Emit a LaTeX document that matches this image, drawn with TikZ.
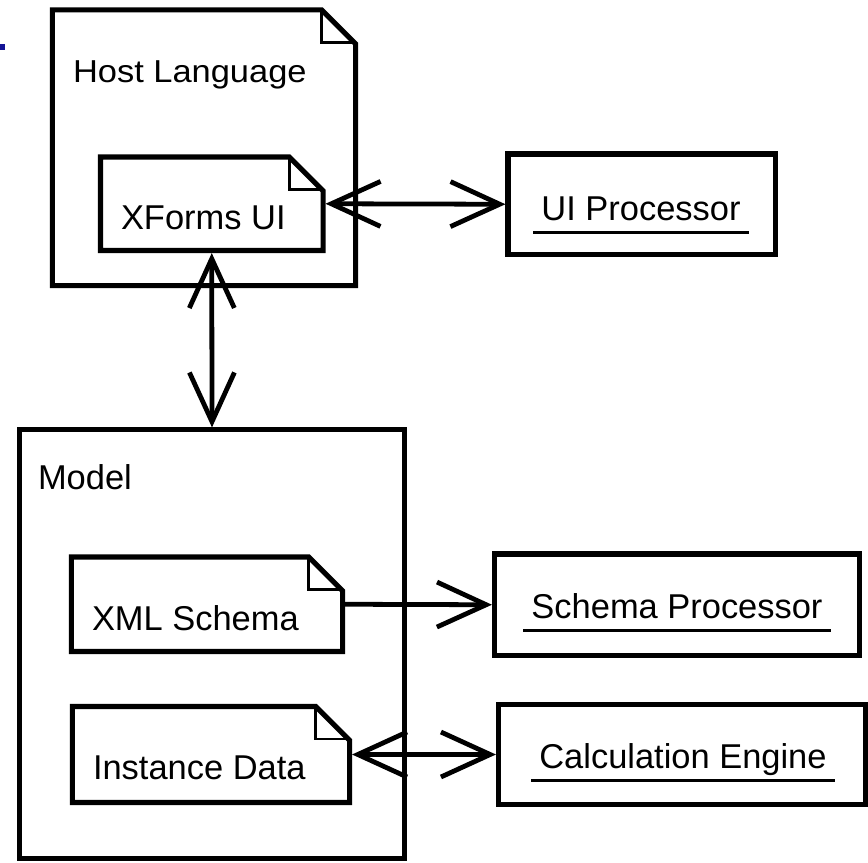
\documentclass[tikz,border=0pt]{standalone}
\usepackage{fontspec}
\setmainfont{Liberation Sans}
\usetikzlibrary{arrows.meta}
\usetikzlibrary{positioning}

\definecolor{markblue}{RGB}{20,20,150}
\tikzset{
  box/.style={rectangle,draw=black,line width=3.6pt,outer sep=0pt,inner sep=0pt},
  note/.style={rectangle,draw=none,outer sep=0pt,inner sep=0pt},
  noteline/.style={line width=3.6pt,line join=miter},
  foldline/.style={line width=1.9pt},
  txt/.style={inner sep=0pt,outer sep=0pt,font=\fontsize{24.5pt}{28pt}\selectfont},
  uline/.style={line width=1.9pt},
  link/.style={line width=3.4pt,shorten <=1.8pt,shorten >=1.8pt},
  both/.style={arrows={Straight Barb[length=35pt,width=32pt,sharp]-Straight Barb[length=35pt,width=32pt,sharp]}},
  single/.style={arrows={-Straight Barb[length=35pt,width=32pt,sharp]}}
}
\newcommand{\foldnote}[1]{%
  \draw[noteline] (#1.south west) -- (#1.south east) -- ([yshift=-24pt]#1.north east)
    -- ([xshift=-24pt]#1.north east) -- (#1.north west) -- cycle;
  \draw[foldline] ([xshift=-24pt]#1.north east) -- ([xshift=-24pt,yshift=-23pt]#1.north east)
    -- ([yshift=-23pt]#1.north east);}
\newcommand{\ulabel}[1]{%
  \draw[uline] ([xshift=-5.7pt,yshift=-9pt]#1.base west) -- ([xshift=5.7pt,yshift=-9pt]#1.base east);}

\begin{document}
\begin{tikzpicture}[x=0.025cm,y=-0.025cm]
\useasboundingbox (0,0) rectangle (868,862);
\fill[markblue] (0,44) rectangle (5,50);
% containers
\node at (204,147.75)[note,minimum width=7.575cm,minimum height=6.8875cm](host){};
\node at (212,644)[box,minimum width=9.625cm,minimum height=10.7cm](model){};
% documents
\node at (211.75,203.75)[note,minimum width=5.5625cm,minimum height=2.3375cm](xforms){};
\node at (207,604.25)[note,minimum width=6.775cm,minimum height=2.3625cm](xsd){};
\node at (211,754.5)[note,minimum width=6.925cm,minimum height=2.4cm](inst){};
\foldnote{host}
\foldnote{xforms}
\foldnote{xsd}
\foldnote{inst}
% processors
\node at (641.5,204.25)[box,minimum width=6.675cm,minimum height=2.5125cm](uip){};
\node at (677,604.75)[box,minimum width=9.125cm,minimum height=2.5375cm](sp){};
\node at (682,754.5)[box,minimum width=9.175cm,minimum height=2.5cm](ce){};
% labels
\node at (73,82)[txt,anchor=base west](hostlbl){\scalebox{1}[0.92]{Host Language}};
\node at (121,229)[txt,anchor=base west](xformslbl){XForms UI};
\node at (38,489)[txt,anchor=base west](modellbl){Model};
\node at (92,630)[txt,anchor=base west](xsdlbl){XML Schema};
\node at (93,779)[txt,anchor=base west](instlbl){Instance Data};
\node at (641,220)[txt,anchor=base](uiplbl){UI Processor};
\node at (677,618)[txt,anchor=base](splbl){Schema Processor};
\node at (683,768)[txt,anchor=base](celbl){Calculation Engine};
\ulabel{uiplbl}
\ulabel{splbl}
\ulabel{celbl}
% links
\draw[link,both] (xforms.east) -- (uip.west);
\draw[link,both] (xforms.south) -- (model.north);
\draw[link,single] (xsd.east) -- (sp.west);
\draw[link,both] (inst.east) -- (ce.west);
\end{tikzpicture}
\end{document}
